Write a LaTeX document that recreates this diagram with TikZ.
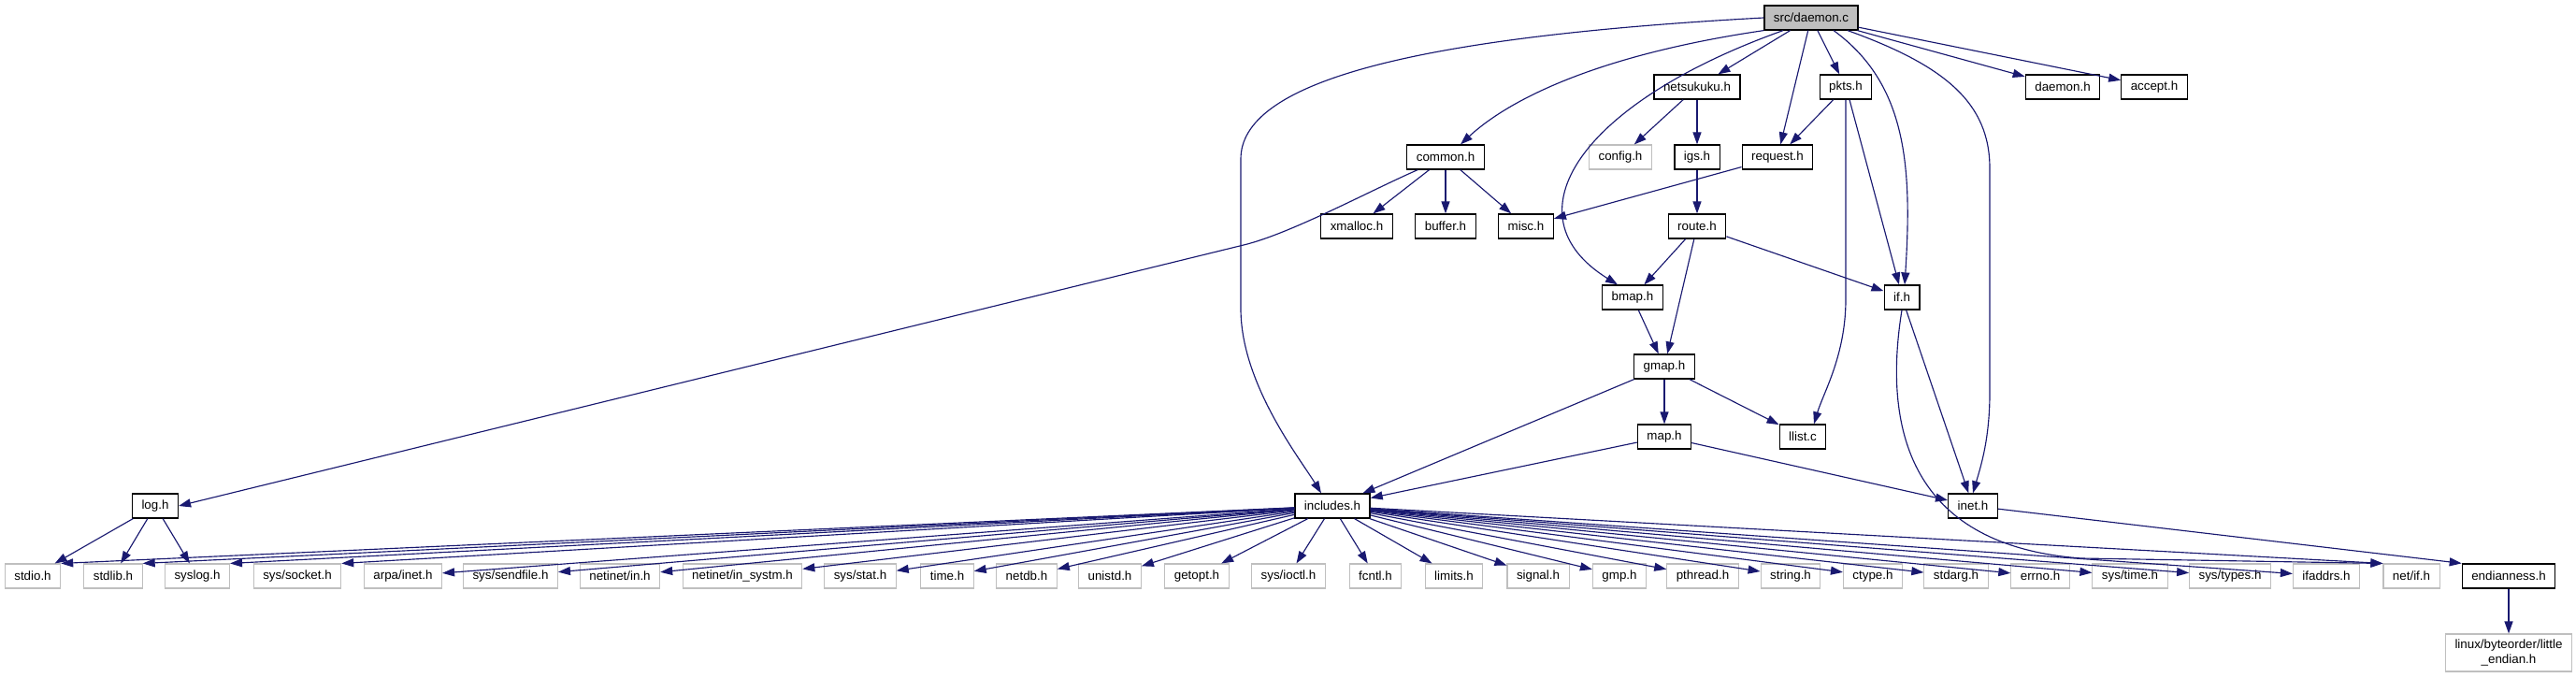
\documentclass[tikz,border=0pt]{standalone}
\usepackage{fontspec}
\setmainfont{Liberation Sans}
\usepackage{tikz}
\usetikzlibrary{arrows.meta}
\definecolor{DGEdge}{HTML}{191970}
\definecolor{DGGrey}{HTML}{BFBFBF}

\begin{document}
\begin{tikzpicture}[x=1cm,y=1cm,
  hdr/.style={draw=black,line width=0.7pt,fill=white,inner xsep=0.2cm,inner ysep=0pt,minimum height=0.52cm,font=\fontsize{7.6}{9}\selectfont},
  sysh/.style={hdr,draw=DGGrey,line width=0.6pt},
  srcf/.style={hdr,fill=DGGrey},
  incl/.style={draw=DGEdge,line width=0.65pt,-{Triangle[length=0.26cm,width=0.18cm]}}]
\path[use as bounding box] (0,0) rectangle (55.10,14.48);
% top rows
\node[srcf] (daemonc) at (38.74,14.10) {src/daemon.c};
\node[hdr] (netsukuku) at (36.30,12.62) {netsukuku.h};
\node[hdr] (pkts) at (39.48,12.62) {pkts.h};
\node[hdr] (daemonh) at (44.12,12.62) {daemon.h};
\node[hdr] (accept) at (46.08,12.62) {accept.h};
\node[hdr] (common) at (30.92,11.12) {common.h};
\node[sysh] (config) at (34.66,11.12) {config.h};
\node[hdr] (igs) at (36.30,11.12) {igs.h};
\node[hdr] (request) at (38.02,11.12) {request.h};
\node[hdr] (xmalloc) at (29.02,9.64) {xmalloc.h};
\node[hdr] (buffer) at (30.92,9.64) {buffer.h};
\node[hdr] (misc) at (32.64,9.64) {misc.h};
\node[hdr] (route) at (36.30,9.64) {route.h};
\node[hdr] (bmap) at (34.92,8.12) {bmap.h};
\node[hdr] (ifh) at (40.68,8.12) {if.h};
\node[hdr] (gmap) at (35.60,6.64) {gmap.h};
\node[hdr] (map) at (35.60,5.14) {map.h};
\node[hdr] (llist) at (38.56,5.14) {llist.c};
\node[hdr] (log) at (3.32,3.66) {log.h};
\node[hdr] (includes) at (28.50,3.66) {includes.h};
\node[hdr] (inet) at (42.20,3.66) {inet.h};
% bottom row
\node[sysh] (stdio) at (0.70,2.16) {stdio.h};
\node[sysh] (stdlib) at (2.42,2.16) {stdlib.h};
\node[sysh] (syslog) at (4.22,2.16) {syslog.h};
\node[sysh] (syssocket) at (6.36,2.16) {sys/socket.h};
\node[sysh] (arpainet) at (8.62,2.16) {arpa/inet.h};
\node[sysh] (syssendfile) at (10.92,2.16) {sys/sendfile.h};
\node[sysh] (netinetin) at (13.26,2.16) {netinet/in.h};
\node[sysh] (insystm) at (15.88,2.16) {netinet/in\_systm.h};
\node[sysh] (sysstat) at (18.40,2.16) {sys/stat.h};
\node[sysh] (timeh) at (20.26,2.16) {time.h};
\node[sysh] (netdb) at (21.96,2.16) {netdb.h};
\node[sysh] (unistd) at (23.74,2.16) {unistd.h};
\node[sysh] (getopt) at (25.60,2.16) {getopt.h};
\node[sysh] (sysioctl) at (27.56,2.16) {sys/ioctl.h};
\node[sysh] (fcntl) at (29.42,2.16) {fcntl.h};
\node[sysh] (limits) at (31.10,2.16) {limits.h};
\node[sysh] (signal) at (32.90,2.16) {signal.h};
\node[sysh] (gmp) at (34.64,2.16) {gmp.h};
\node[sysh] (pthread) at (36.42,2.16) {pthread.h};
\node[sysh] (string) at (38.30,2.16) {string.h};
\node[sysh] (ctype) at (40.06,2.16) {ctype.h};
\node[sysh] (stdarg) at (41.84,2.16) {stdarg.h};
\node[sysh] (errno) at (43.64,2.16) {errno.h};
\node[sysh] (systime) at (45.56,2.16) {sys/time.h};
\node[sysh] (systypes) at (47.70,2.16) {sys/types.h};
\node[sysh] (ifaddrs) at (49.76,2.16) {ifaddrs.h};
\node[sysh] (netif) at (51.58,2.16) {net/if.h};
\node[hdr] (endian) at (53.66,2.16) {endianness.h};
\node[sysh,minimum height=0.80cm,align=center] (little) at (53.66,0.52) {linux/byteorder/little\\\_endian.h};
% src/daemon.c
\draw[incl] (daemonc.west) .. controls (30.00,13.68) and (26.54,12.68) .. (26.54,11.08) -- (26.54,7.88) .. controls (26.54,6.28) and (27.80,4.68) .. ([xshift=-0.24cm]includes.north);
\draw[incl] (daemonc.south west) .. controls (34.00,13.28) and (32.20,12.28) .. ([xshift=0.32cm]common.north);
\draw[incl] ([xshift=-0.6cm]daemonc.south) .. controls (33.80,12.28) and (32.20,9.88) .. ([xshift=-0.32cm]bmap.north);
\draw[incl] (daemonc) -- (netsukuku);
\draw[incl] (daemonc) -- (request);
\draw[incl] (daemonc) -- (pkts);
\draw[incl] ([xshift=0.48cm]daemonc.south) .. controls (40.80,12.68) and (40.90,10.88) .. ([xshift=0.06cm]ifh.north);
\draw[incl] ([xshift=0.78cm]daemonc.south) .. controls (41.60,13.08) and (42.56,12.28) .. (42.56,10.88) -- (42.56,6.08) .. controls (42.56,5.08) and (42.36,4.48) .. (inet.north);
\draw[incl] (daemonc) -- (daemonh);
\draw[incl] (daemonc) -- (accept);
% headers
\draw[incl] (netsukuku) -- (config);
\draw[incl] (netsukuku) -- (igs);
\draw[incl] (pkts) -- (request);
\draw[incl] ([xshift=0.08cm]pkts.south) -- ([xshift=-0.06cm]ifh.north);
\draw[incl] (pkts.south) -- (39.48,8.08) .. controls (39.48,6.88) and (39.00,6.08) .. ([xshift=0.24cm]llist.north);
\draw[incl] ([xshift=0.24cm]common.south west) .. controls (29.34,10.42) and (27.60,9.48) .. (26.60,9.24) -- (log.east);
\draw[incl] (common) -- (xmalloc);
\draw[incl] (common) -- (buffer);
\draw[incl] (common) -- (misc);
\draw[incl] (request) -- (misc);
\draw[incl] (igs) -- (route);
\draw[incl] (route) -- (bmap);
\draw[incl] (route) -- (gmap);
\draw[incl] (route) -- (ifh);
\draw[incl] (bmap) -- (gmap);
\draw[incl] (gmap) -- (includes);
\draw[incl] (gmap) -- (map);
\draw[incl] (gmap) -- (llist);
\draw[incl] (map) -- (includes);
\draw[incl] (map) -- (inet);
\draw[incl] (ifh) -- (inet);
\draw[incl] (ifh.south) .. controls (40.20,4.88) and (41.20,2.78) .. (44.52,2.54) -- (netif.north west);
\draw[incl] (inet) -- (endian.north west);
\draw[incl] (endian) -- (little);
\draw[incl] (log) -- (stdio);
\draw[incl] (log) -- (stdlib);
\draw[incl] (log) -- (syslog);
% includes.h
\draw[incl] (includes) -- (stdio.north east);
\draw[incl] (includes) -- (stdlib.north east);
\draw[incl] (includes) -- (syslog.north east);
\draw[incl] (includes) -- (syssocket.north east);
\draw[incl] (includes) -- (arpainet);
\draw[incl] (includes) -- (syssendfile);
\draw[incl] (includes) -- (netinetin);
\draw[incl] (includes) -- (insystm);
\draw[incl] (includes) -- (sysstat);
\draw[incl] (includes) -- (timeh);
\draw[incl] (includes) -- (netdb);
\draw[incl] (includes) -- (unistd);
\draw[incl] (includes) -- (getopt);
\draw[incl] (includes) -- (sysioctl);
\draw[incl] (includes) -- (fcntl);
\draw[incl] (includes) -- (limits);
\draw[incl] (includes) -- (signal);
\draw[incl] (includes) -- (gmp);
\draw[incl] (includes) -- (pthread);
\draw[incl] (includes) -- (string);
\draw[incl] (includes) -- (ctype);
\draw[incl] (includes) -- (stdarg);
\draw[incl] (includes) -- (errno);
\draw[incl] (includes) -- (systime);
\draw[incl] (includes) -- (systypes);
\draw[incl] (includes) -- (ifaddrs);
\draw[incl] (includes) -- (netif.north west);
\end{tikzpicture}
\end{document}
